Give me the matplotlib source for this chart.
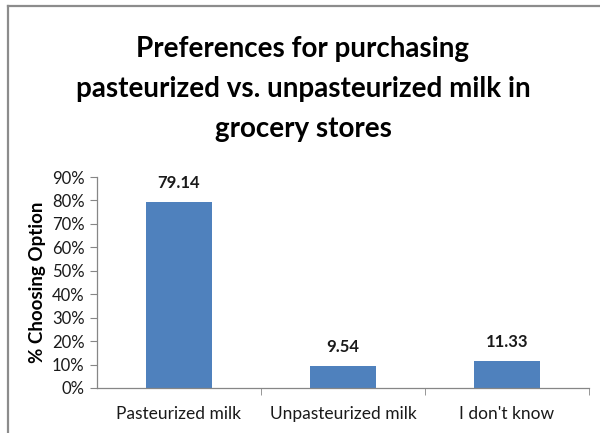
import matplotlib
matplotlib.use('Agg')
import matplotlib.pyplot as plt
from matplotlib.lines import Line2D
from matplotlib.ticker import FixedLocator, FuncFormatter

plt.rcParams['font.family'] = ['Lato', 'DejaVu Sans']

categories = ['Pasteurized milk', 'Unpasteurized milk', "I don't know"]
values = [79.14, 9.54, 11.33]
yticks = [0, 10, 20, 30, 40, 50, 60, 70, 80, 90]

title = 'Preferences for purchasing\npasteurized vs. unpasteurized milk in\ngrocery stores'

fig = plt.figure(figsize=(6.0, 4.33), dpi=100)
ax = fig.add_axes([97 / 600, 1 - 388 / 433, (589 - 97) / 600, (388 - 177) / 433])

x = list(range(len(categories)))
bars = ax.bar(x, values, width=0.4, color='#4F81BD', zorder=2)

for xi, v in zip(x, values):
    ax.annotate(f'{v:.2f}', (xi, v), xytext=(0, 8), textcoords='offset points',
                ha='center', va='bottom', fontsize=12, fontweight='bold', color='#1a1a1a')

ax.set_xlim(-0.5, len(categories) - 0.5)
ax.set_ylim(0, 90)
ax.set_yticks(yticks)
ax.yaxis.set_major_formatter(FuncFormatter(lambda v, p: f'{v:.0f}%'))
ax.set_xticks(x)
ax.set_xticklabels(categories)
ax.xaxis.set_minor_locator(FixedLocator([0.5 + i for i in range(len(categories))]))
ax.tick_params(axis='x', which='major', length=0, pad=13, labelsize=12.5, labelcolor='#1a1a1a')
ax.tick_params(axis='x', which='minor', length=5, direction='out', color='#868686')
ax.tick_params(axis='y', length=5, direction='out', color='#868686', pad=4,
               labelsize=12, labelcolor='#1a1a1a')

for side in ['top', 'right']:
    ax.spines[side].set_visible(False)
for side in ['left', 'bottom']:
    ax.spines[side].set_color('#868686')
    ax.spines[side].set_linewidth(0.9)

ax.set_ylabel('% Choosing Option', fontsize=13.5, fontweight='bold', labelpad=4)

fig.text(0.505, 1 - 89 / 433, title, ha='center', va='center', fontsize=20,
         fontweight='bold', linespacing=1.68, color='#000000')

# outer chart frame (top and left edges)
fig.add_artist(Line2D([8 / 600, 1.0], [1 - 6 / 433, 1 - 6 / 433], color='#8c8c8c', lw=1.6,
                      transform=fig.transFigure))
fig.add_artist(Line2D([8 / 600, 8 / 600], [0.0, 1 - 6 / 433], color='#8c8c8c', lw=1.6,
                      transform=fig.transFigure))

fig.savefig('out.png', dpi=100)
